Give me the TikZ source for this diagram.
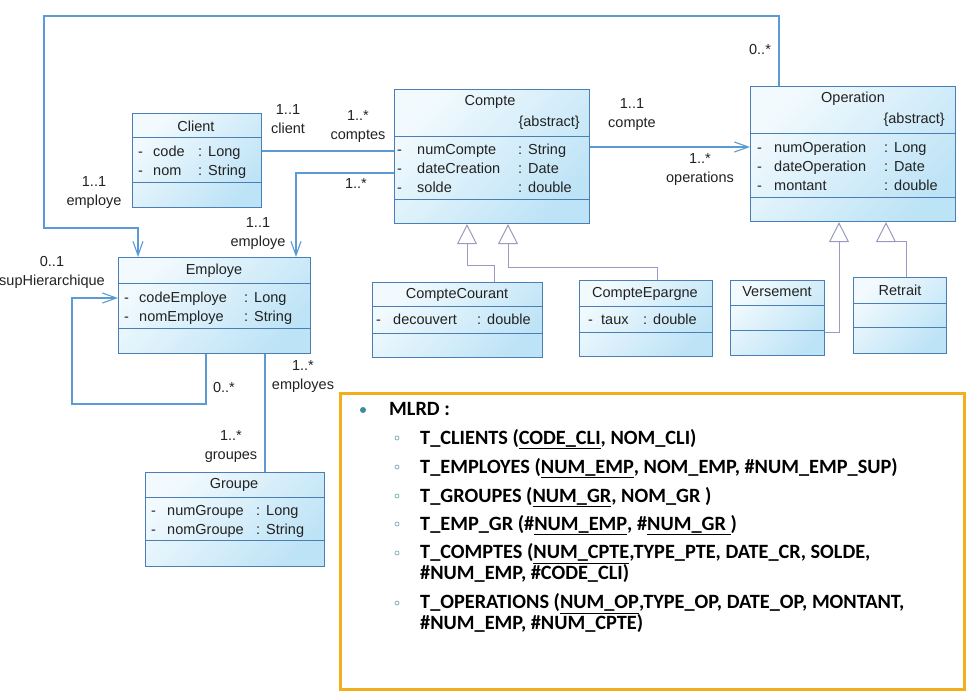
\documentclass[tikz,border=0pt]{standalone}
\usepackage{fontspec}
\setmainfont{Liberation Sans}
\newfontfamily\mlrdfont{Carlito}
\usetikzlibrary{arrows.meta}
\definecolor{boxline}{HTML}{4A7FB5}
\definecolor{boxlight}{HTML}{F2FAFE}
\definecolor{boxdark}{HTML}{BDE3F6}
\definecolor{assocblue}{HTML}{5B9BD5}
\definecolor{inhgrey}{HTML}{9A9AC2}
\definecolor{mlrdorange}{HTML}{F2AE1C}
\definecolor{bullteal}{HTML}{3D8C9A}
\definecolor{txtgrey}{HTML}{222222}
\newcommand{\umlattrs}[3]{\begin{tabular}[t]{@{}p{#1}@{}p{#2}@{}l@{}}#3\end{tabular}}
\newcommand{\pkey}[1]{\underline{#1}}
\newcommand{\ty}[1]{:\hspace{6pt}#1}
\tikzstyle{classbox} = [rectangle, draw=boxline, line width=1.1pt, top color=boxlight, bottom color=boxdark, shading angle=45, anchor=north west, inner sep=0pt]
\tikzstyle{sep} = [draw=boxline, line width=1pt]
\tikzstyle{cname} = [font=\fontsize{14.5}{19}\selectfont, text=txtgrey, inner sep=0pt]
\tikzstyle{attrs} = [font=\fontsize{14.5}{19}\selectfont, text=txtgrey, inner sep=0pt, anchor=base west]
\tikzstyle{mult} = [font=\fontsize{14.5}{19}\selectfont, text=txtgrey, align=center, inner sep=0pt]
\tikzstyle{assoc} = [draw=assocblue, line width=1.1pt]
\tikzstyle{nav} = [assoc, -{Straight Barb[length=14pt, width=10pt]}]
\tikzstyle{inherit} = [draw=inhgrey, line width=1pt, -{Triangle[open, length=20pt, width=20pt, fill=white]}]
\tikzstyle{mitem} = [font=\mlrdfont\bfseries\fontsize{20.3}{20.5}\selectfont, text=black, align=left, inner sep=0pt, anchor=base west]
\tikzstyle{subbullet} = [circle, draw=bullteal!70, line width=0.7pt, minimum size=4pt, inner sep=0pt]

\begin{document}
\begin{tikzpicture}[x=1pt, y=-1pt]
  \useasboundingbox (0,0) rectangle (972,696);
  \fill[white] (0,0) rectangle (972,696);

  % Client
  \node[classbox, minimum width=129pt, minimum height=94pt] (client) at (132,113) {};
  \draw[sep] (132,137) -- (261,137) (132,182) -- (261,182);
  \node[cname] (clientN) at (196,126) {Client};
  \node[attrs] (clientA) at (138,156) {\umlattrs{15pt}{45pt}{- & code & \ty{Long}\\- & nom & \ty{String}}};

  % Compte
  \node[classbox, minimum width=195pt, minimum height=134pt] (compte) at (394,89) {};
  \draw[sep] (394,136) -- (589,136) (394,199) -- (589,199);
  \node[cname] (compteN) at (490,102) {Compte};
  \node[cname, anchor=east] (compteS) at (580,123) {\{abstract\}};
  \node[attrs] (compteA) at (397,154) {\umlattrs{20pt}{101pt}{- & numCompte & \ty{String}\\- & dateCreation & \ty{Date}\\- & solde & \ty{double}}};

  % Operation
  \node[classbox, minimum width=205pt, minimum height=135pt] (operation) at (750,86) {};
  \draw[sep] (750,133) -- (955,133) (750,197) -- (955,197);
  \node[cname] (operationN) at (853,99) {Operation};
  \node[cname, anchor=east] (operationS) at (945,120) {\{abstract\}};
  \node[attrs] (operationA) at (757,152) {\umlattrs{17pt}{110pt}{- & numOperation & \ty{Long}\\- & dateOperation & \ty{Date}\\- & montant & \ty{double}}};

  % Employe
  \node[classbox, minimum width=192pt, minimum height=96pt] (employe) at (118,257) {};
  \draw[sep] (118,283) -- (310,283) (118,328) -- (310,328);
  \node[cname] (employeN) at (214,271) {Employe};
  \node[attrs] (employeA) at (124,302) {\umlattrs{15pt}{105pt}{- & codeEmploye & \ty{Long}\\- & nomEmploye & \ty{String}}};

  % Groupe
  \node[classbox, minimum width=179pt, minimum height=94pt] (groupe) at (145,472) {};
  \draw[sep] (145,497) -- (324,497) (145,540) -- (324,540);
  \node[cname] (groupeN) at (234,485) {Groupe};
  \node[attrs] (groupeA) at (151,515) {\umlattrs{16pt}{89pt}{- & numGroupe & \ty{Long}\\- & nomGroupe & \ty{String}}};

  % CompteCourant
  \node[classbox, minimum width=170pt, minimum height=75pt] (ccourant) at (372,282) {};
  \draw[sep] (372,306) -- (542,306) (372,333) -- (542,333);
  \node[cname] (ccourantN) at (457,295) {CompteCourant};
  \node[attrs] (ccourantA) at (376,324) {\umlattrs{17pt}{84pt}{- & decouvert & \ty{double}}};

  % CompteEpargne
  \node[classbox, minimum width=133pt, minimum height=76pt] (cepargne) at (579,280) {};
  \draw[sep] (579,306) -- (712,306) (579,332) -- (712,332);
  \node[cname] (cepargneN) at (645,294) {CompteEpargne};
  \node[attrs] (cepargneA) at (588,324) {\umlattrs{13pt}{42pt}{- & taux & \ty{double}}};

  % Versement
  \node[classbox, minimum width=94pt, minimum height=75pt] (versement) at (730,280) {};
  \draw[sep] (730,305) -- (824,305) (730,330) -- (824,330);
  \node[cname] (versementN) at (777,292) {Versement};

  % Retrait
  \node[classbox, minimum width=93pt, minimum height=76pt] (retrait) at (853,277) {};
  \draw[sep] (853,303) -- (946,303) (853,327) -- (946,327);
  \node[cname] (retraitN) at (900,290) {Retrait};

  % associations
  \draw[nav] (operation.north -| 779,0) |- (44,16) -- (44,228) -| (employe.north -| 138,0);
  \draw[assoc] (client.east |- 0,151) -- (compte.west |- 0,151);
  \draw[nav] (compte.west |- 0,173) -| (employe.north -| 296,0);
  \draw[nav] (compte.east |- 0,147) -- (operation.west |- 0,147);
  \draw[nav] (employe.south -| 206,0) |- (72,404) |- (employe.west |- 0,298);
  \draw[assoc] (employe.south -| 265,0) -- (groupe.north -| 265,0);

  % multiplicites
  \node[mult] (m1) at (760,50) {0..*};
  \node[mult] (m2) at (94,193) {1..1\\employe};
  \node[mult] (m3) at (288,119) {1..1\\client};
  \node[mult] (m4) at (358,127) {1..*\\comptes};
  \node[mult] (m5) at (356,184) {1..*};
  \node[mult] (m6) at (258,234) {1..1\\employe};
  \node[mult] (m7) at (632,115) {1..1\\compte};
  \node[mult] (m8) at (700,170) {1..*\\operations};
  \node[mult] (m9) at (52,272) {0..1\\supHierarchique};
  \node[mult] (m10) at (224,388) {0..*};
  \node[mult] (m11) at (303,377) {1..*\\employes};
  \node[mult] (m12) at (231,447) {1..*\\groupes};

  % heritage
  \draw[inherit] (ccourant.north -| 494,0) |- (467,265) -- (compte.south -| 467,0);
  \draw[inherit] (cepargne.north -| 657,0) |- (508,267) -- (compte.south -| 508,0);
  \draw[inherit] (versement.east |- 0,332) -| (operation.south -| 839,0);
  \draw[inherit] (retrait.north -| 906,0) |- (886,241) -- (operation.south -| 886,0);

  % MLRD
  \node[draw=mlrdorange, line width=2.5pt, fill=white, minimum width=624pt, minimum height=296pt, anchor=north west, inner sep=0pt] (mlrdbox) at (339,392) {};
  \node[circle, fill=bullteal, minimum size=6pt, inner sep=0pt] (mb) at (363,410) {};
  \node[mitem] (mlrd) at (389,415) {MLRD :};
  \node[subbullet] (sb1) at (397,438) {};
  \node[mitem] (tcli) at (420,444) {T\_CLIENTS (\pkey{CODE\_CLI}, NOM\_CLI)};
  \node[subbullet] (sb2) at (397,467) {};
  \node[mitem] (temp) at (420,473) {T\_EMPLOYES (\pkey{NUM\_EMP}, NOM\_EMP, \#NUM\_EMP\_SUP)};
  \node[subbullet] (sb3) at (397,496) {};
  \node[mitem] (tgr) at (420,502) {T\_GROUPES (\pkey{NUM\_GR}, NOM\_GR )};
  \node[subbullet] (sb4) at (397,524) {};
  \node[mitem] (tempgr) at (420,530) {T\_EMP\_GR (\#\pkey{NUM\_EMP}, \#\pkey{NUM\_GR\ })};
  \node[subbullet] (sb5) at (397,553) {};
  \node[mitem] (tcpt) at (420,579) {T\_COMPTES (\pkey{NUM\_CPTE},TYPE\_PTE, DATE\_CR, SOLDE,\\\#NUM\_EMP, \#CODE\_CLI)};
  \node[subbullet] (sb6) at (397,603) {};
  \node[mitem] (top) at (420,629) {T\_OPERATIONS (\pkey{NUM\_OP},TYPE\_OP, DATE\_OP, MONTANT,\\\#NUM\_EMP, \#NUM\_CPTE)};
\end{tikzpicture}
\end{document}
